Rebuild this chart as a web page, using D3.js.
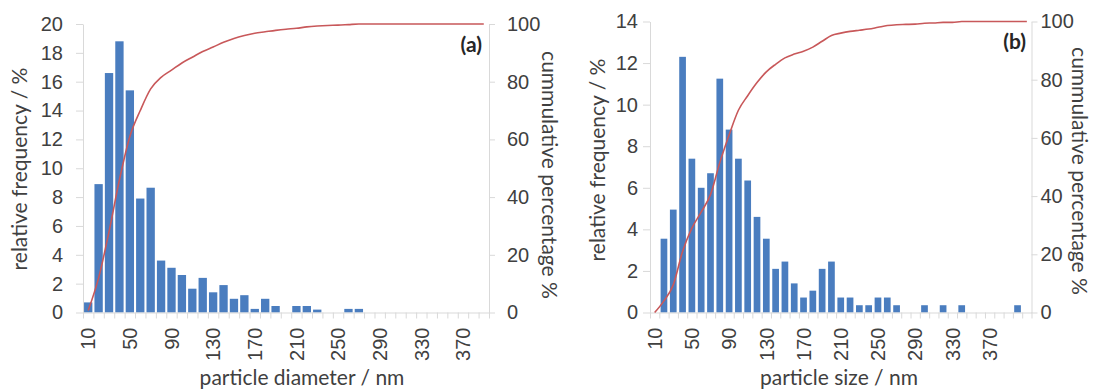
<!DOCTYPE html>
<html>
<head>
<meta charset="utf-8">
<script src="https://cdn.jsdelivr.net/npm/d3@7"></script>
<style>
  body { margin: 0; background: #fff; }
  svg { display: block; font-family: Lato, "Open Sans", sans-serif; }
  .axis path, .axis line { stroke: #d9d9d9; }
  .axis text { fill: #404040; font-size: 20px; }
  .title { fill: #404040; font-size: 21px; }
</style>
</head>
<body>
<svg id="chart" width="1093" height="391"></svg>
<script>
// panel (a): particle diameter, 10 nm bins
var sizesA = [10, 20, 30, 40, 50, 60, 70, 80, 90, 100, 110, 120, 130, 140, 150, 160, 170, 180, 190, 200,
              210, 220, 230, 240, 250, 260, 270, 280, 290, 300, 310, 320, 330, 340, 350, 360, 370, 380, 390];
var freqA = [0.7, 8.9, 16.6, 18.8, 15.4, 7.9, 8.65, 3.6, 3.1, 2.6, 1.65, 2.4, 1.4, 1.9, 0.95, 1.2, 0.25, 0.95, 0.45, 0,
             0.45, 0.45, 0.2, 0, 0, 0.25, 0.25, 0, 0, 0, 0, 0, 0, 0, 0, 0, 0, 0, 0];
var cumA = [0.7, 12, 28, 46, 61, 70, 77.5, 81.5, 84, 86.5, 88.5, 90.5, 92, 93.7, 95, 96, 96.8, 97.3, 97.8, 98.2,
            98.5, 99, 99.3, 99.5, 99.6, 99.8, 100, 100, 100, 100, 100, 100, 100, 100, 100, 100, 100, 100, 100];

// panel (b): particle size, 10 nm bins
var sizesB = [10, 20, 30, 40, 50, 60, 70, 80, 90, 100, 110, 120, 130, 140, 150, 160, 170, 180, 190, 200,
              210, 220, 230, 240, 250, 260, 270, 280, 290, 300, 310, 320, 330, 340, 350, 360, 370, 380, 390, 400, 410];
var freqB = [0, 3.55, 4.95, 12.3, 7.4, 6.0, 6.7, 11.25, 8.8, 7.4, 6.35, 4.6, 3.55, 2.1, 2.45, 1.4, 0.72, 1.05, 2.1, 2.45,
             0.72, 0.72, 0.35, 0.35, 0.72, 0.72, 0.35, 0, 0, 0.35, 0, 0.35, 0, 0.35, 0, 0, 0, 0, 0, 0.35, 0];
var cumB = [0, 4, 9.5, 21, 29, 34.5, 40.5, 51.5, 61, 69.5, 74.5, 79, 82.7, 85.3, 87.5, 88.8, 89.8, 91.2, 93.2, 95.2,
            96, 96.6, 97, 97.4, 98, 98.6, 98.9, 99, 99.1, 99.4, 99.5, 99.7, 99.7, 100, 100, 100, 100, 100, 100, 100, 100];

var xTickLabels = [10, 50, 90, 130, 170, 210, 250, 290, 330, 370];
var freqTicksA = [0, 2, 4, 6, 8, 10, 12, 14, 16, 18, 20];
var freqTicksB = [0, 2, 4, 6, 8, 10, 12, 14];
var cumTicks = [0, 20, 40, 60, 80, 100];

var svg = d3.select("#chart");

var panels = [
  { sizes: sizesA, freq: freqA, cum: cumA, freqTicks: freqTicksA, freqMax: 20,
    left: 83, right: 489, top: 24, bottom: 312.5, pad: 0.2, padL: 13, padR: 12,
    tag: "(a)", tagX: 482, tagY: 52,
    xTitle: "particle diameter / nm", xTitleX: 302,
    yTitleX: 20, yTitleY: 169, y2TitleX: 549, y2TitleY: 175 },
  { sizes: sizesB, freq: freqB, cum: cumB, freqTicks: freqTicksB, freqMax: 14,
    left: 650, right: 1031.5, top: 21.5, bottom: 312.5, pad: 0.28, padL: 5, padR: 3,
    tag: "(b)", tagX: 1026, tagY: 49,
    xTitle: "particle size / nm", xTitleX: 839,
    yTitleX: 598, yTitleY: 160, y2TitleX: 1079, y2TitleY: 171 }
];

panels.forEach(function(p) {
  var g = svg.append("g");

  var x = d3.scaleBand()
      .domain(p.sizes)
      .range([p.left, p.right])
      .paddingInner(p.pad)
      .paddingOuter(p.pad / 2);
  var y = d3.scaleLinear().domain([0, p.freqMax]).range([p.bottom, p.top]);
  var y2 = d3.scaleLinear().domain([0, 100]).range([p.bottom, p.top]);
  // boundaries between categories, for the tick marks
  var xb = d3.scaleLinear().domain([0, p.sizes.length]).range([p.left, p.right]);

  // bars
  g.selectAll("rect")
    .data(p.sizes)
    .enter().append("rect")
      .attr("x", function(d) { return x(d); })
      .attr("width", x.bandwidth())
      .attr("y", function(d, i) { return y(p.freq[i]); })
      .attr("height", function(d, i) { return p.bottom - y(p.freq[i]); })
      .attr("fill", "#4a7dbf");

  // axes
  g.append("g")
    .attr("class", "axis")
    .attr("transform", "translate(0," + p.bottom + ")")
    .call(d3.axisBottom(xb).tickValues(d3.range(p.sizes.length + 1)).tickFormat("").tickSize(6).tickSizeOuter(0));

  var xl = g.append("g")
    .attr("class", "axis")
    .attr("transform", "translate(0," + p.bottom + ")")
    .call(d3.axisBottom(x).tickValues(xTickLabels).tickSize(0));
  xl.select(".domain").remove();
  xl.selectAll("text")
    .attr("transform", "rotate(-90)")
    .attr("text-anchor", "end")
    .attr("x", -15)
    .attr("y", 0)
    .attr("dy", "0.36em");

  g.append("g")
    .attr("class", "axis")
    .attr("transform", "translate(" + p.left + ",0)")
    .call(d3.axisLeft(y).tickValues(p.freqTicks).tickSize(7).tickSizeOuter(0).tickPadding(p.padL));

  g.append("g")
    .attr("class", "axis")
    .attr("transform", "translate(" + p.right + ",0)")
    .call(d3.axisRight(y2).tickValues(cumTicks).tickSize(6).tickSizeOuter(0).tickPadding(p.padR));

  // cumulative line
  var line = d3.line()
    .x(function(d) { return x(d) + x.bandwidth() / 2; })
    .y(function(d, i) { return y2(p.cum[i]); })
    .curve(d3.curveMonotoneX);

  g.append("path")
    .attr("d", line(p.sizes))
    .attr("fill", "none")
    .attr("stroke", "#c8585a")
    .attr("stroke-width", 1.6);

  // labels
  g.append("text")
    .attr("x", p.tagX)
    .attr("y", p.tagY)
    .attr("text-anchor", "end")
    .attr("font-weight", "bold")
    .attr("font-size", "21px")
    .attr("fill", "#262626")
    .text(p.tag);

  g.append("text")
    .attr("class", "title")
    .attr("x", p.xTitleX)
    .attr("y", 385)
    .attr("text-anchor", "middle")
    .text(p.xTitle);

  g.append("text")
    .attr("class", "title")
    .attr("transform", "translate(" + p.yTitleX + "," + p.yTitleY + ") rotate(-90)")
    .attr("text-anchor", "middle")
    .attr("dy", "0.35em")
    .text("relative frequency / %");

  g.append("text")
    .attr("class", "title")
    .attr("transform", "translate(" + p.y2TitleX + "," + p.y2TitleY + ") rotate(90)")
    .attr("text-anchor", "middle")
    .attr("dy", "0.35em")
    .text("cummulative percentage %");
});
</script>
</body>
</html>
